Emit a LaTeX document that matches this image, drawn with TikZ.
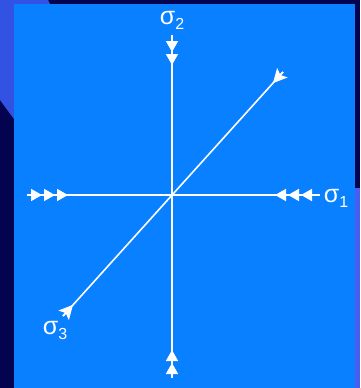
\documentclass[tikz,border=0pt]{standalone}
\usepackage{fontspec}
\setmainfont{Liberation Sans}
\usetikzlibrary{arrows.meta, calc}

\definecolor{slideblue}{RGB}{8,128,255}
\definecolor{edgeblue}{RGB}{50,82,228}
\definecolor{stripblue}{RGB}{72,92,240}
\definecolor{navy}{RGB}{3,3,80}

\newcommand{\sig}[1]{σ\raisebox{-5pt}{\fontsize{16}{18}\selectfont #1}}

\tikzset{
  wedge/.tip={Triangle[length=11pt,width=12pt,sep=2pt]},
  dart/.tip={Stealth[length=14pt,width=14pt,inset=3pt]},
}

\begin{document}
\begin{tikzpicture}[x=1pt,y=-1pt,
  axis/.style={white, line width=1.6pt},
  lbl/.style={white, inner sep=0pt, font=\fontsize{25}{28}\selectfont}]

\useasboundingbox (0,0) rectangle (360,388);

% slide background
\fill[navy] (0,0) rectangle (360,388);
\fill[edgeblue] (0,0) -- (48,0) -- (50,4) -- (14,4) -- (14,119) -- (0,100) -- cycle;
\fill[stripblue] (355,188) rectangle (360,388);
\fill[slideblue] (14,4) rectangle (355,388);

% axes
\coordinate (O) at (172,195);
\coordinate (top) at (172,35);
\coordinate (bot) at (172,378);
\coordinate (left) at (27,195);
\coordinate (right) at (320,195);
\coordinate (ne) at (283,72);
\coordinate (sw) at (63,316);

\node[lbl] (s2) at (172,20) {\sig{2}};
\node[lbl] (s1) at (336,198) {\sig{1}};
\node[lbl] (s3) at (55,330) {\sig{3}};

\draw[axis] (top) -- (bot);
\draw[axis] (left) -- (right);
\draw[axis] (sw) -- (ne);

% compression arrows
\coordinate (t2) at (172,67);
\coordinate (b2) at (172,348);
\coordinate (l3) at (70,195);
\coordinate (r3) at (273,195);

\draw[axis, -{wedge[] wedge[]}] (top) -- (t2);
\draw[axis, -{wedge[] wedge[]}] (bot) -- (b2);
\draw[axis, -{wedge[] wedge[] wedge[]}] (left) -- (l3);
\draw[axis, -{wedge[] wedge[] wedge[]}] (right) -- (r3);
\draw[axis, -{dart[]}] (ne) -- ($(ne)!15pt!(O)$);
\draw[axis, -{dart[]}] (sw) -- ($(sw)!15pt!(O)$);

\end{tikzpicture}
\end{document}
